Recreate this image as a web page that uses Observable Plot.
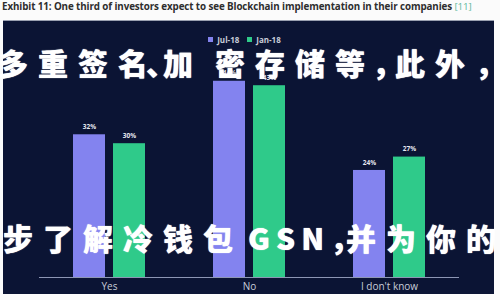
<!DOCTYPE html>
<html>
<head>
<meta charset="utf-8">
<script src="https://cdn.jsdelivr.net/npm/d3@7"></script>
<script src="https://cdn.jsdelivr.net/npm/@observablehq/plot@0.6"></script>
<style>
  html, body { margin: 0; padding: 0; background: #fbfbfb; width: 500px; height: 300px; overflow: hidden; }
  #title { position: absolute; left: 2px; top: 0px; font: bold 9.8px "Open Sans", "DejaVu Sans", sans-serif; color: #2e2e2e; white-space: nowrap; letter-spacing: -0.1px; }
  #title .ref { color: #5db89c; font-weight: normal; }
  #panel { position: absolute; left: 3px; top: 20px; width: 491px; height: 274px; background: #0b1434; border-top: 1px solid #9aa0b0; box-sizing: border-box; }
  #chart { position: absolute; left: 0; top: -1px; }
  #legend { position: absolute; left: 0; top: 2px; width: 491px; display: flex; justify-content: center; }
  .overlay { position: absolute; white-space: nowrap; color: #fff; font-family: "Noto Sans CJK SC", sans-serif; font-weight: 900; font-size: 30px; line-height: 30px; letter-spacing: 10px; text-shadow: 0 0 1px #fff; }
  #ov1 { left: -2px; top: 47px; }
  #ov2 { left: 3px; top: 222px; }
  .p1 { margin-left: -12px; letter-spacing: -13px; }
  .wide { letter-spacing: 22px; }
  .p2 { margin-left: -3px; letter-spacing: -7px; }
  .lat { letter-spacing: 6px; margin-left: 5px; }
  .p3 { letter-spacing: -14px; }
</style>
</head>
<body>
<div id="title">Exhibit 11: One third of investors expect to see Blockchain implementation in their companies <span class="ref">[11]</span></div>
<div id="panel">
  <div id="chart"></div>
  <div id="legend"></div>
</div>
<div class="overlay" id="ov1">多重签名<span class="p1">、</span><span class="wide">加</span>密存储等<span class="p2">，</span>此外<span>，</span></div>
<div class="overlay" id="ov2">步了解冷钱包<span class="lat">GSN</span><span class="p3">，</span>并为你的</div>
<script>
const categories = ["Yes", "No", "I don't know"];
const seriesNames = ["Jul-18", "Jan-18"];
const jul18 = [32, 44, 24];
const jan18 = [30, 43, 27];
const colors = ["#8383ef", "#2fca8a"];

const data = [];
categories.forEach((c, i) => {
  data.push({category: c, series: seriesNames[0], value: jul18[i]});
  data.push({category: c, series: seriesNames[1], value: jan18[i]});
});

const chart = Plot.plot({
  width: 491,
  height: 275,
  marginLeft: 35,
  marginRight: 35,
  marginTop: 34,
  marginBottom: 18,
  style: {background: "transparent", color: "#c8ccd8", fontFamily: "Open Sans, sans-serif"},
  fx: {domain: categories, padding: 0, axis: "bottom", label: null, tickSize: 0, tickPadding: 5, fontSize: 7},
  x: {domain: seriesNames, paddingInner: 0.21, paddingOuter: 0.84, axis: null},
  y: {domain: [0, 50], axis: null},
  color: {domain: seriesNames, range: colors},
  marks: [
    Plot.barY(data, {fx: "category", x: "series", y: "value", fill: "series"}),
    Plot.ruleY([0], {stroke: "#8d96b4", strokeWidth: 1}),
    Plot.text(data, {fx: "category", x: "series", y: "value", text: d => d.value + "%", dy: -8, fill: "#e6e8f0", fontSize: 6.5, fontWeight: "bold"})
  ]
});
document.getElementById("chart").appendChild(chart);

const legend = Plot.legend({
  color: {type: "ordinal", domain: seriesNames, range: colors},
  swatchSize: 5,
  style: {fontSize: "8px", color: "#c8ccd8", fontFamily: "Open Sans, sans-serif", fontWeight: "bold", margin: 0}
});
document.getElementById("legend").appendChild(legend);
</script>
</body>
</html>
